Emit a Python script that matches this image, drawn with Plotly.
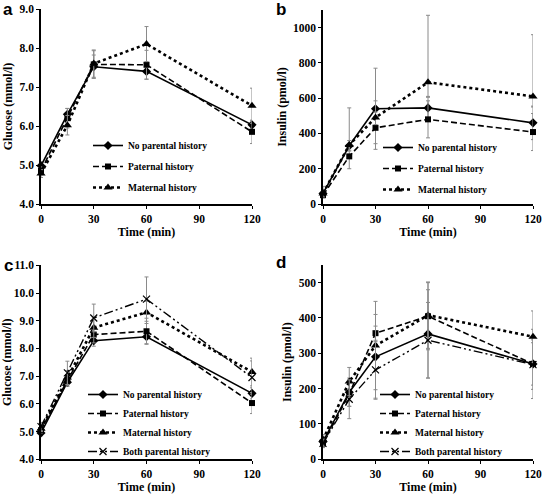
import plotly.graph_objects as go

times = [0, 15, 30, 60, 120]
x_ticks = [0, 30, 60, 90, 120]
names3 = ["No parental history", "Paternal history", "Maternal history"]
names4 = names3 + ["Both parental history"]

# Panel a: glucose, offspring groups
a_none = [4.98, 6.30, 7.52, 7.40, 6.03]
a_pat = [4.85, 6.20, 7.58, 7.57, 5.85]
a_mat = [4.78, 6.02, 7.60, 8.10, 6.52]
a_none_err = [0.10, 0.15, 0.30, 0.20, 0.10]
a_pat_err = [0.10, 0.25, 0.35, 0.37, 0.30]
a_mat_err = [0.10, 0.25, 0.35, 0.45, 0.45]

# Panel b: insulin
b_none = [60, 330, 540, 545, 460]
b_pat = [50, 270, 432, 480, 408]
b_mat = [60, 335, 490, 690, 610]
b_none_err = [20, 30, 230, 60, 95]
b_pat_err = [15, 70, 90, 105, 105]
b_mat_err_up = [40, 210, 95, 380, 350]
b_mat_err_dn = [20, 30, 40, 80, 60]

# Panel c: glucose, four groups
c_none = [4.95, 6.78, 8.28, 8.42, 6.38]
c_pat = [5.05, 6.85, 8.50, 8.62, 6.03]
c_mat = [5.10, 6.95, 8.75, 9.30, 7.15]
c_both = [5.18, 7.12, 9.10, 9.78, 6.95]
c_none_err = [0.10, 0.15, 0.20, 0.25, 0.20]
c_pat_err = [0.10, 0.20, 0.30, 0.47, 0.38]
c_mat_err = [0.10, 0.25, 0.35, 0.40, 0.50]
c_both_err = [0.15, 0.42, 0.50, 0.80, 0.60]

# Panel d: insulin, four groups
d_none = [50, 190, 290, 355, 270]
d_pat = [45, 185, 357, 405, 270]
d_mat = [55, 220, 322, 408, 347]
d_both = [45, 170, 253, 337, 268]
d_none_err = [15, 40, 120, 125, 98]
d_pat_err = [10, 35, 20, 95, 60]
d_mat_err = [15, 40, 125, 94, 73]
d_both_err = [12, 55, 80, 107, 70]

styles = [
    dict(dash="solid", width=1.6, symbol="diamond", size=7),
    dict(dash="6px,3px", width=1.6, symbol="square", size=6),
    dict(dash="dot", width=2.6, symbol="triangle-up", size=8),
    dict(dash="9px,3px,2px,3px,2px,3px", width=1.4, symbol="x-thin", size=7),
]

fig = go.Figure()

def add(series, errs, xa, ya, legend, names):
    for i, (vals, err) in enumerate(zip(series, errs)):
        st = styles[i]
        if isinstance(err, tuple):
            ey = dict(type="data", symmetric=False, array=err[0], arrayminus=err[1],
                      color="#8a8a8a", thickness=1, width=2)
        else:
            ey = dict(type="data", array=err, color="#8a8a8a", thickness=1, width=2)
        fig.add_trace(go.Scatter(
            x=times, y=vals, mode="lines+markers", name=names[i],
            xaxis=xa, yaxis=ya, legend=legend, legendgroup=legend + str(i),
            line=dict(color="black", width=st["width"], dash=st["dash"]),
            marker=dict(color="black", symbol=st["symbol"], size=st["size"],
                        line=dict(color="black", width=1.2 if st["symbol"] == "x-thin" else 0)),
            error_y=ey, cliponaxis=False,
        ))

add([a_none, a_pat, a_mat], [a_none_err, a_pat_err, a_mat_err], "x", "y", "legend", names3)
add([b_none, b_pat, b_mat], [b_none_err, b_pat_err, (b_mat_err_up, b_mat_err_dn)], "x2", "y2", "legend2", names3)
add([c_none, c_pat, c_mat, c_both], [c_none_err, c_pat_err, c_mat_err, c_both_err], "x3", "y3", "legend3", names4)
add([d_none, d_pat, d_mat, d_both], [d_none_err, d_pat_err, d_mat_err, d_both_err], "x4", "y4", "legend4", names4)

W, H = 544, 494
serif = "Liberation Serif"
tickfont = dict(family=serif, size=11.5, color="black", weight="bold")
titlefont = dict(family=serif, size=12, color="black", weight="bold")

def xaxis(x0, x1, anchor):
    return dict(domain=[x0 / W, x1 / W], range=[0, 120], tickvals=x_ticks, anchor=anchor,
                automargin=False,
                showgrid=False, zeroline=False, showline=True, linecolor="black", linewidth=1.5,
                ticks="outside", ticklen=3, tickcolor="black", tickfont=tickfont,
                title=dict(text="Time (min)", font=titlefont, standoff=4))

def yaxis(y0, y1, rng, dtick, fmt, title, anchor):
    return dict(domain=[1 - y0 / H, 1 - y1 / H], range=rng, dtick=dtick, tickformat=fmt, anchor=anchor,
                automargin=False,
                showgrid=False, zeroline=False, showline=True, linecolor="black", linewidth=1.5,
                ticks="outside", ticklen=3, tickcolor="black", tickfont=tickfont,
                title=dict(text=title, font=titlefont, standoff=4))

legfont = dict(family=serif, size=9.5, color="black", weight="bold")

def legend(x, y, gap):
    return dict(x=x / W, y=1 - y / H, xanchor="left", yanchor="top", bgcolor="rgba(0,0,0,0)",
                font=legfont, traceorder="grouped", tracegroupgap=gap, itemwidth=30,
                borderwidth=0)

fig.update_layout(
    width=W, height=H, margin=dict(l=0, r=0, t=0, b=0),
    paper_bgcolor="white", plot_bgcolor="white", showlegend=True,
    xaxis=xaxis(41, 252, "y"),
    yaxis=yaxis(204, 9, [4, 9], 1, ".1f", "Glucose (mmol/l)", "x"),
    xaxis2=xaxis(323, 533, "y2"),
    yaxis2=yaxis(204, 10, [0, 1100], 200, "d", "Insulin (pmol/l)", "x2"),
    xaxis3=xaxis(41, 252, "y3"),
    yaxis3=yaxis(459.3, 265.3, [4, 11], 1, ".1f", "Glucose (mmol/l)", "x3"),
    xaxis4=xaxis(323, 533, "y4"),
    yaxis4=yaxis(459.3, 265, [0, 550], 100, "d", "Insulin (pmol/l)", "x4"),
    legend=legend(88, 131, 2),
    legend2=legend(378, 133, 2),
    legend3=legend(83, 380, 0),
    legend4=legend(375, 380, 0),
)

sans = "Liberation Sans"
for txt, x, y in [("a", 8, 10), ("b", 281, 10), ("c", 8, 265), ("d", 281, 262)]:
    fig.add_annotation(text=txt, x=x / W, y=1 - y / H, xref="paper", yref="paper",
                       showarrow=False, xanchor="center", yanchor="middle",
                       font=dict(family=sans, size=17, color="black", weight="bold"))

fig.write_html("out.html", config={"displayModeBar": False},
               post_script="document.body.style.margin='0px';")
